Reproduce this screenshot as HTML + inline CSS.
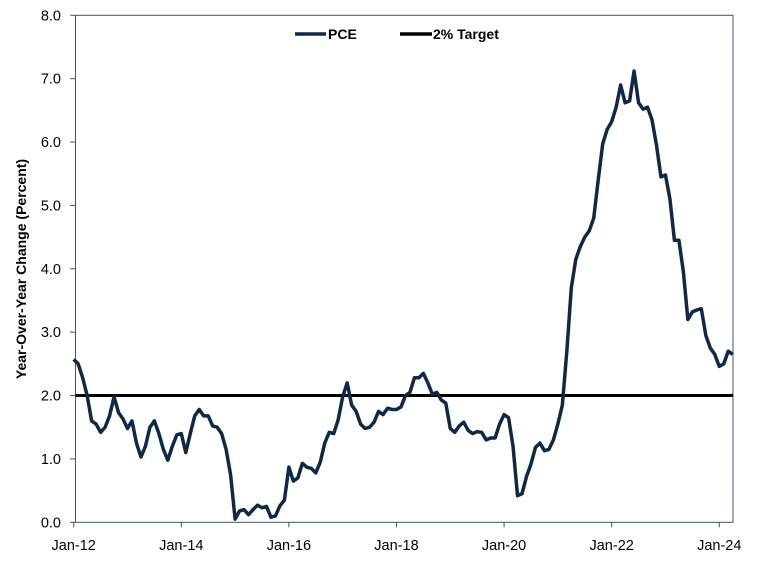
<!DOCTYPE html>
<html><head><meta charset="utf-8"><style>
body{margin:0;background:#fff;}
svg text{font-family:"Liberation Sans",Arial,sans-serif;}
</style></head><body>
<svg width="770" height="558" viewBox="0 0 770 558" xmlns="http://www.w3.org/2000/svg">
<rect x="0" y="0" width="770" height="558" fill="#fff"/>
<g id="axes"></g>
<g id="series"></g>
<g>
  <line x1="295" y1="34" x2="326" y2="34" stroke="#0f2846" stroke-width="3.5"/>
  <text x="328" y="39" font-size="14" font-weight="bold" fill="#000">PCE</text>
  <line x1="400" y1="34" x2="432" y2="34" stroke="#000" stroke-width="3.5"/>
  <text x="433" y="39" font-size="14" font-weight="bold" fill="#000">2% Target</text>
</g>
<text transform="translate(26,269) rotate(-90)" text-anchor="middle" font-size="14" font-weight="bold" fill="#000">Year-Over-Year Change (Percent)</text>
</svg>
<script>
const pceValues = [
2.57,2.50,2.28,2.00,1.60,1.55,1.42,1.50,1.68,1.98,1.73,1.63,
1.48,1.60,1.25,1.03,1.20,1.50,1.60,1.40,1.15,0.98,1.20,1.38,
1.40,1.10,1.40,1.68,1.78,1.68,1.68,1.52,1.50,1.40,1.15,0.75,
0.05,0.18,0.20,0.12,0.20,0.27,0.23,0.25,0.08,0.10,0.26,0.35,
0.87,0.65,0.70,0.93,0.87,0.85,0.78,0.95,1.25,1.42,1.40,1.62,
1.98,2.20,1.85,1.75,1.55,1.48,1.50,1.58,1.75,1.70,1.80,1.78,
1.78,1.82,2.00,2.05,2.28,2.28,2.35,2.20,2.02,2.05,1.93,1.88,
1.48,1.42,1.52,1.58,1.45,1.40,1.43,1.42,1.30,1.33,1.33,1.55,
1.70,1.65,1.20,0.42,0.45,0.72,0.92,1.18,1.25,1.13,1.15,1.30,
1.55,1.85,2.70,3.70,4.15,4.35,4.50,4.60,4.80,5.40,5.97,6.20,
6.32,6.55,6.90,6.62,6.65,7.12,6.62,6.52,6.55,6.35,5.95,5.45,
5.48,5.10,4.45,4.45,3.95,3.20,3.32,3.35,3.37,2.95,2.75,2.65,
2.46,2.50,2.70,2.65];
const targetValue = [2.0];
const yTickLabels = ["0.0","1.0","2.0","3.0","4.0","5.0","6.0","7.0","8.0"];
const xTickLabels = ["Jan-12","Jan-14","Jan-16","Jan-18","Jan-20","Jan-22","Jan-24"];
const xTickMonths = [0,24,48,72,96,120,144];

const NS="http://www.w3.org/2000/svg";
const L=75.5,R=733,T=15.3,B=522.3,M0=73.7,PXM=4.483;
const x=m=>M0+m*PXM;
const y=v=>B-(v/8)*(B-T);
function mk(tag,attrs,parent){const e=document.createElementNS(NS,tag);for(const k in attrs)e.setAttribute(k,attrs[k]);parent.appendChild(e);return e;}
const axes=document.getElementById('axes'), series=document.getElementById('series');

const frame=mk('rect',{x:L,y:T,width:R-L,height:B-T,fill:'none',stroke:'#44546a','stroke-width':1},axes);



yTickLabels.forEach((t,i)=>{
  const v=parseFloat(t);
  const tk=mk('line',{x1:70,x2:L,y1:y(v),y2:y(v),stroke:'#44546a','stroke-width':1},axes);
  
  
  const tx=mk('text',{x:61,y:y(v)+5,'text-anchor':'end','font-size':'14.5',fill:'#000'},axes);
  tx.textContent=t;
  
  
});
xTickLabels.forEach((t,i)=>{
  const xx=x(xTickMonths[i]);
  const tk=mk('line',{x1:xx,x2:xx,y1:B,y2:B+5,stroke:'#44546a','stroke-width':1},axes);
  
  
  const tx=mk('text',{x:xx,y:550,'text-anchor':'middle','font-size':'14.5',fill:'#000'},axes);
  tx.textContent=t;
  
  
});

const tl=mk('line',{x1:L,x2:R,y1:y(targetValue[0]),y2:y(targetValue[0]),stroke:'#000','stroke-width':3},series);



const d=pceValues.map((v,i)=>(i?'L':'M')+x(i).toFixed(2)+','+y(v).toFixed(2)).join(' ');
const pl=mk('path',{d:d,fill:'none',stroke:'#0f2846','stroke-width':3.5,'stroke-linejoin':'round'},series);


</script>
</body></html>
